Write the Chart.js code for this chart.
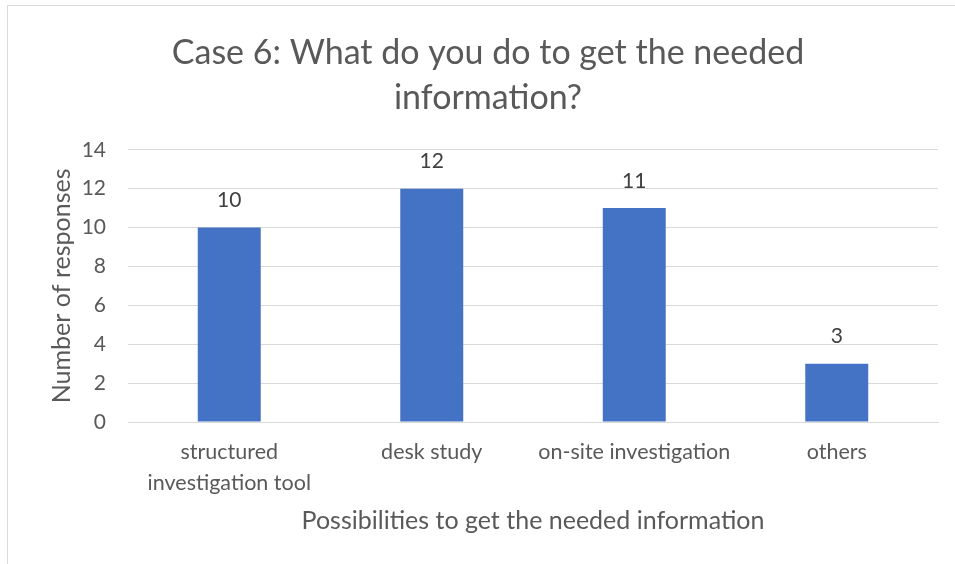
<!DOCTYPE html>
<html>
<head>
<meta charset="utf-8">
<script src="https://cdn.jsdelivr.net/npm/chart.js@4"></script>
<style>
  html, body { margin: 0; padding: 0; background: #fff; overflow: hidden; }
  #frame {
    position: absolute; left: 7px; top: 5px;
    width: 1000px; height: 600px;
    border: 1px solid #d9d9d9;
  }
  #wrap { position: absolute; left: 0; top: 0; width: 955px; height: 564px; }
</style>
</head>
<body>
<div id="frame"></div>
<div id="wrap"><canvas id="chart" width="955" height="564"></canvas></div>
<script>
const categories = [
  ['structured', 'investigation tool'],
  'desk study',
  'on-site investigation',
  'others'
];
const responses = [10, 12, 11, 3];
const yTicks = [0, 2, 4, 6, 8, 10, 12, 14];

const FONT = 'Lato, "Open Sans", sans-serif';

// values printed just above each bar
const barValues = {
  id: 'barValues',
  afterDatasetsDraw(chart) {
    const ctx = chart.ctx;
    const meta = chart.getDatasetMeta(0);
    ctx.save();
    ctx.font = '21px ' + FONT;
    ctx.fillStyle = '#404040';
    ctx.textAlign = 'center';
    ctx.textBaseline = 'middle';
    meta.data.forEach((bar, i) => {
      ctx.fillText(String(chart.data.datasets[0].data[i]), bar.x, bar.y - 27);
    });
    ctx.restore();
  }
};

new Chart(document.getElementById('chart'), {
  type: 'bar',
  data: {
    labels: categories,
    datasets: [{
      data: responses,
      backgroundColor: '#4472C4',
      borderWidth: 0,
      categoryPercentage: 1,
      barPercentage: 0.311
    }]
  },
  options: {
    responsive: false,
    animation: false,
    // left padding also pushes the centred title to the right
    layout: { padding: { left: 38, right: 17, top: 0, bottom: 0 } },
    plugins: {
      legend: { display: false },
      tooltip: { enabled: false },
      title: {
        display: true,
        text: ['Case 6: What do you do to get the needed', 'information?'],
        color: '#595959',
        font: { family: FONT, size: 34, weight: 'normal', lineHeight: 1.32 },
        padding: { top: 31, bottom: 29 }
      }
    },
    scales: {
      x: {
        grid: { display: false, drawTicks: false },
        border: { display: true, color: '#d9d9d9', width: 1 },
        ticks: {
          color: '#595959',
          font: { family: FONT, size: 21.5, lineHeight: 1.45 },
          padding: 14,
          maxRotation: 0,
          autoSkip: false
        },
        title: {
          display: true,
          text: 'Possibilities to get the needed information',
          color: '#595959',
          font: { family: FONT, size: 25, lineHeight: 1.2 },
          padding: { top: 0, bottom: 28 }
        },
        afterFit(scale) { scale.height = 142; }
      },
      y: {
        min: 0,
        max: 14,
        afterBuildTicks(scale) { scale.ticks = yTicks.map(v => ({ value: v })); },
        grid: { color: '#d9d9d9', lineWidth: 1, drawTicks: false },
        border: { display: false },
        ticks: {
          color: '#595959',
          font: { family: FONT, size: 21 },
          padding: 22
        },
        title: {
          display: true,
          text: 'Number of responses',
          color: '#595959',
          font: { family: FONT, size: 25, lineHeight: 1.2 },
          padding: { top: 9, bottom: 0 }
        },
        afterFit(scale) { scale.width = 90; }
      }
    }
  },
  plugins: [barValues]
});
</script>
</body>
</html>
